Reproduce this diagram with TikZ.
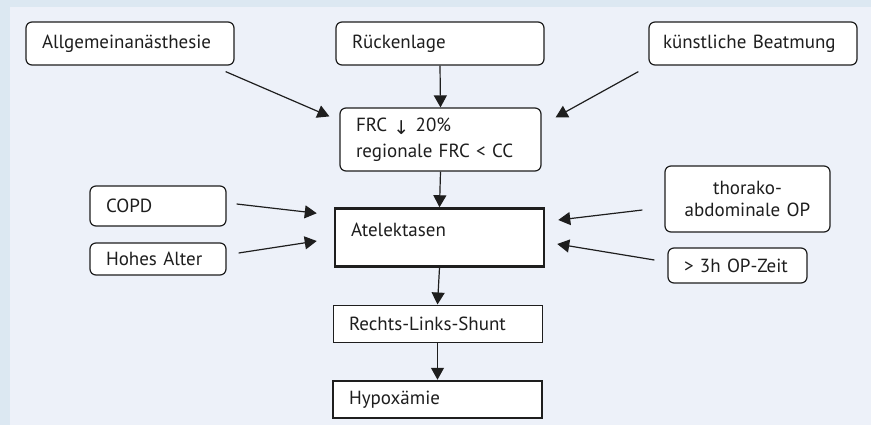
\documentclass[tikz,border=0pt]{standalone}
\usepackage{fontspec}
\setmainfont{PT Sans}
\newfontfamily\pfeilschrift{DejaVu Sans}
\usetikzlibrary{arrows.meta}
\definecolor{rahmenblau}{RGB}{220,232,242}
\definecolor{grundblau}{RGB}{237,241,249}
\definecolor{schrift}{RGB}{30,30,30}

\begin{document}
\begin{tikzpicture}[x=1pt, y=-1pt,
        font=\fontsize{19}{23}\selectfont,
        faktor/.style={shape=rectangle, draw=schrift, rounded corners=6pt, fill=white,
            line width=1.2pt, text=schrift, inner xsep=16pt, inner ysep=0pt, align=left},
        folge/.style={shape=rectangle, draw=schrift, fill=white, line width=2.5pt,
            text=schrift, inner xsep=16pt, inner ysep=0pt, align=left},
        pfeil/.style={-{Triangle[length=12pt, width=13pt]}, line width=1.2pt, draw=schrift}]

    \useasboundingbox (0,0) rectangle (871,425);
    \fill[rahmenblau] (0,0) rectangle (871,425);
    \fill[grundblau] (10,7) rectangle (871,425);

    % obere Reihe
    \node[faktor, text width=176pt, minimum height=43pt] (Narkose) at (130,43.5) {Allgemeinanästhesie};
    \node[faktor, text width=176pt, minimum height=43pt] (Lage) at (440,43.5) {Rückenlage};
    \node[faktor, inner xsep=14pt, text width=180pt, minimum height=43pt] (Beatmung) at (753,43.5) {künstliche Beatmung};
    \node[faktor, text width=169pt, minimum height=63pt] (FRC) at (440.5,139.5)
        {FRC \raisebox{-3pt}{\pfeilschrift ↓} 20\%\\[3pt] regionale FRC < CC};

    % Mitte
    \node[folge, text width=177pt, text height=28pt, text depth=30pt] (Atelektasen) at (439.5,237.5) {Atelektasen};
    \node[faktor, text width=104pt, minimum height=40pt] (COPD) at (158,206) {COPD};
    \node[faktor, text width=104pt, minimum height=32pt] (Alter) at (158,259) {Hohes Alter};
    \node[faktor, text width=133pt, minimum height=66pt, align=center] (Thorax) at (747.5,199)
        {thorako-\\[-1pt] abdominale OP};
    \node[faktor, text width=107pt, minimum height=35pt] (Dauer) at (737.5,265.5) {> 3h OP-Zeit};

    % untere Reihe
    \node[folge, line width=1pt, text width=177pt, minimum height=37pt] (Shunt) at (437.5,323.5) {Rechts-Links-Shunt};
    \node[folge, text width=177pt, minimum height=37pt] (Hypox) at (437.5,399.5) {Hypoxämie};

    \draw[pfeil] ([xshift=-9pt, yshift=-6pt]Narkose.south east) -- ([xshift=-10pt, yshift=-9pt]FRC.north west);
    \draw[pfeil] (Lage.south) -- (FRC.north);
    \draw[pfeil] ([xshift=-10pt, yshift=-6pt]Beatmung.south west) -- ([xshift=14pt, yshift=-10pt]FRC.north east);
    \draw[pfeil] (FRC.south) -- (Atelektasen.north);
    \draw[pfeil] ([xshift=10pt, yshift=2pt]COPD.east) -- ([xshift=-17pt, yshift=-6pt]Atelektasen.north west);
    \draw[pfeil] ([xshift=12pt, yshift=6pt]Alter.east) -- ([xshift=-17pt, yshift=-3.5pt]Atelektasen.west);
    \draw[pfeil] ([xshift=-22pt, yshift=-11pt]Thorax.west) -- ([xshift=13pt, yshift=17.5pt]Atelektasen.east);
    \draw[pfeil] ([xshift=-13pt, yshift=5.5pt]Dauer.west) -- ([xshift=12pt, yshift=-6.5pt]Atelektasen.east);
    \draw[pfeil] (Atelektasen.south) -- (Shunt.north);
    \draw[pfeil] (Shunt.south) -- (Hypox.north);
\end{tikzpicture}
\end{document}
